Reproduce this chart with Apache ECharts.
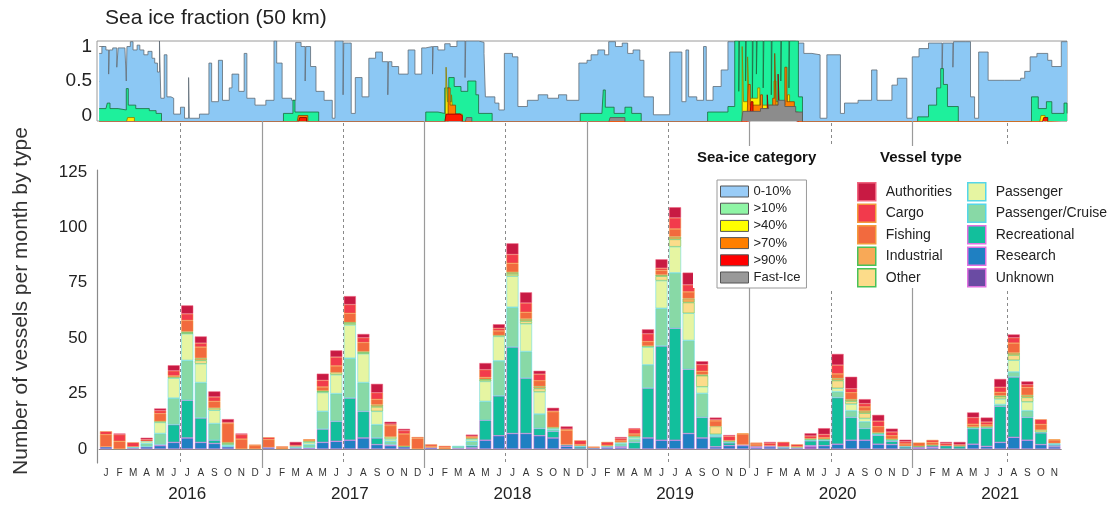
<!DOCTYPE html>
<html><head><meta charset="utf-8">
<script src="https://cdn.jsdelivr.net/npm/echarts@6/dist/echarts.min.js"></script>
<style>html,body{margin:0;padding:0;background:#fff}#c{width:1120px;height:506px}</style>
</head><body><div id="c"></div>
<script>
const FONT = 'Liberation Sans, Arial, Helvetica, sans-serif';
const monthLetters = ['J','F','M','A','M','J','J','A','S','O','N','D'];
const years = ['2016','2017','2018','2019','2020','2021'];
const monthsPerYear = [12,12,12,12,12,11];
const yTicks = [0,25,50,75,100,125];
const iceTicks = [0,0.5,1];
const yearBoundaryMonths = [12,24,36,48,60];
const summerMarkMonths = [6,18,30,42,54,67];

// vessels per month, by type (2016-01 .. 2021-11)
const unknown = [0,0,0,0,0,0,0,0,0,0,0,0, 0,0,0,0,0,0,0,0,0,0,0,0, 0,0,0,0,0,0,0,0,0,0,0,0, 0,0,0,0,0,0,0,0,0,0,0,0, 0,0,0,0,1,0,0,0,0,0,0,0, 0,0,0,0,0,0,0,0,0,0,0];
const research = [1,0,0,1,1.5,3,5,3,2.5,1,0,0, 0.8,0,0,0.5,3,3.5,4,5,2,1.5,1,0, 0.7,0,0,0.5,4,6,7,7,6,5,1.3,0, 0,0.8,0.8,0,5,4,4,7,5,1,1.5,1.5, 0.8,1,0,0,0.5,1.5,2.2,4,4,2.2,2,0, 0.5,0.8,0,0,2.2,1.2,3,5.3,4,2,1];
const recreational = [0,0,0.5,0,0.5,8,17,11,1.5,0,0,0, 0,0,0.5,0,6,9,19,12,3,0.5,0,0, 0,0,0.4,1,9,18,39,25,3.3,3,0.7,1, 0.6,0,0.5,3,22.5,42.5,50.5,29,9.3,4.5,1.3,0.5, 0.5,0.5,0.8,0.5,2.2,2.3,21,10.3,5.3,4,1.5,1, 0.5,0.7,1.5,1.2,7,8.2,16.3,27.2,10.3,5.3,0.8];
const passengerCruise = [0,0,0.5,1.5,5,12,18,16,7.5,0.5,0,0, 0,0,0.7,1.5,8,12.5,18,13,6,1.5,0,0, 0,0,1,2,8.5,15.8,18,12,6.5,0.8,0,0.5, 0,0.5,1.2,1.5,10.5,17,25,13,10.8,0.7,0.5,0, 0,0,0.3,0.3,0.5,0.5,2.7,3,3,0.5,0.5,0.3, 0,0,0,0,0.3,0.3,0.8,2.3,3,0.3,0.5];
const passenger = [0,0,0,1,5,9,12,8.5,6,0.5,0,0, 0,0,0,1,8.5,8.5,15,13,6,1,0,0, 0,0,0,1,9,11,14,12.5,10,0.5,0,0, 0,0,0.5,0.8,8,12.5,11.8,12.3,3,0.5,0,0, 0,0,0,0,0,0,1.5,3,1.5,0.3,0,0, 0,0,0,0,0,0,2.5,5.3,4,0,0.3];
const other = [0,0,0,0,0.5,0.5,0.5,1.5,1,0.5,0,0, 0,0,0,0.5,0.5,1,0.7,0.5,2,1,0.3,0, 0,0,0,0.3,0.7,0.5,1,1.2,1.5,0.5,0,0, 0,0,0,0.5,0.5,2,3.3,4.8,5,3.5,0.5,0, 0,0,0,0,0.5,0.3,3.5,1.3,2.4,0.4,0.5,0, 0.3,0.3,0,0.3,0.5,0.5,1,2.3,2,1,0];
const industrial = [0,0,0,0,0,0,0.5,1,0,0.5,0,0, 0,0,0,0,0.3,0,0.5,0.5,1,0,0,0, 0,0,0,0,0.3,0,0.8,1,1,0,0,0, 0,0,0,0,0,0.6,1.2,1.8,0.5,0,0,0, 0,0,0,0,0,0,1,0.8,1,0,0,0, 0,0,0,0,0,0,0.5,1,1,0,0];
const fishing = [5.5,3.5,0,0,3.5,0.5,5,5,3,8.5,4.5,1.5, 3.5,0.6,0,0.5,1.7,3,4,4,2.4,5,5.5,4.8, 0.6,0.7,0,0.5,0.8,2,4,3,2.5,7,6.5,0.5, 0,0.4,0.7,1,2,2,3.5,3,1.5,2.5,0,4.8, 1,0,0,0.3,0,0.5,2,3,1.8,2.7,1.5,1, 1.6,1.2,0,0,1.2,0.7,1.5,4.4,3.5,2.5,1.5];
const cargo = [1.5,3,2,0.8,1.3,2.3,3,1.8,2,0.5,2,0.5, 1,0.6,0.5,0.4,3,4,4,2.2,3,0.8,1.5,0.6, 0.8,0.7,0,0.5,3.5,1.2,4,4.2,3,0.3,0.5,1.9, 0.5,1.5,1,2.3,3.5,1,5,3.2,3,0.5,2,0.3, 0.6,1.2,2.1,1,1.2,1.5,4,1.8,1.5,2.5,1.7,1, 0,1.1,1,0.5,3,1.3,2.3,2.4,1.2,2.3,0.3];
const authorities = [0,0.5,0,0.8,1,2.5,3.8,3,2.5,1.5,0.5,0, 0,0,1.5,0,3,3,3.8,1.7,4,1,0.8,0, 0,0,0,0.7,3,1.8,5,4.8,1.5,1.5,1.2,0, 0,0,0.7,0.3,2,4,4.8,5.5,1.5,1,0.5,0, 0,0.5,0,0,1.2,2.8,5,5.4,2,2.8,1.5,0.9, 0,0,0.7,1.2,2.3,2,3.7,1.5,1.5,0,0];

const vesselNames = ['Unknown','Research','Recreational','Passenger/Cruise','Passenger','Other','Industrial','Fishing','Cargo','Authorities'];
const vesselData = [unknown,research,recreational,passengerCruise,passenger,other,industrial,fishing,cargo,authorities];
const vesselColors = ['#6a4ba3','#1f80c2','#12bf9c','#88d9a6','#e6f5a2','#fcdc8a','#f8a957','#f26a3e','#f23a4c','#c81a43'];
const vesselBorders = ['#e070e0','#e070e0','#e070e0','#55d6e8','#55d6e8','#48c258','#48c258','#f39a3c','#f39a3c','#f0647e'];
const legendCol1 = ['Authorities','Cargo','Fishing','Industrial','Other'];
const legendCol2 = ['Passenger','Passenger/Cruise','Recreational','Research','Unknown'];

// sea-ice fraction within 50 km, [month index, fraction] (step series); -0.1 = none
const iceBlue = [[0,0.9],[0.2,1.0],[0.5,0.95],[0.7,0.6],[0.75,0.95],[1.0,0.98],[1.3,0.7],[1.4,0.98],[1.9,1.0],[2.0,0.5],[2.05,1.0],[2.3,1.07],[2.5,0.95],[2.8,1.02],[3.0,0.95],[3.3,0.88],[3.6,0.93],[3.9,0.83],[4.1,0.76],[4.3,0.63],[4.45,1.08],[4.55,0.25],[4.8,0.88],[5.0,0.27],[5.3,0.25],[5.5,0.02],[6.0,0.12],[6.3,-0.04],[6.6,0.55],[6.65,-0.04],[7.4,0.02],[8.1,0.76],[8.3,0.2],[8.8,0.8],[9.1,0.22],[9.6,0.4],[9.8,0.6],[10.3,0.35],[10.7,0.9],[10.9,0.25],[11.5,0.15],[12.3,0.22],[12.9,1.08],[13.1,0.76],[13.5,0.25],[14.2,0.22],[14.5,1.06],[14.9,1.0],[15.2,0.5],[15.25,1.0],[15.6,0.71],[16.0,0.35],[16.6,0.22],[17.2,-0.04],[17.4,1.08],[18.0,0.3],[18.05,1.05],[18.4,1.05],[18.6,0.03],[18.9,0.55],[19.4,0.27],[19.9,0.83],[20.4,0.92],[20.9,0.78],[21.3,0.3],[21.35,0.78],[21.6,0.71],[22.1,0.6],[22.8,0.95],[23.3,0.6],[23.8,0.98],[24.1,1.0],[24.6,0.6],[24.65,1.0],[25.0,0.95],[25.5,1.04],[25.9,1.0],[26.4,1.08],[27.0,0.55],[27.05,1.08],[28.0,1.06],[28.4,0.9],[28.5,0.27],[29.2,0.18],[29.5,0.08],[29.9,0.9],[30.5,0.85],[30.9,0.13],[31.6,0.22],[32.4,0.3],[33.1,0.25],[33.9,0.3],[34.5,0.22],[35.4,0.76],[36.0,0.8],[36.3,0.88],[36.8,0.95],[37.3,0.88],[37.6,1.07],[38.1,1.0],[38.6,1.05],[39.0,0.9],[39.4,0.95],[39.9,0.8],[40.2,0.27],[40.9,0.01],[42.1,0.92],[43.0,0.2],[43.3,0.95],[43.5,0.27],[44.1,0.22],[44.6,1.0],[44.8,0.22],[45.3,0.42],[45.9,0.66],[46.4,1.07],[46.8,1.08],[51.4,1.05],[52.0,0.9],[52.6,0.88],[53.2,-0.04],[53.7,0.88],[54.7,0.03],[55.0,0.18],[56.0,0.22],[57.0,0.66],[57.4,0.22],[58.5,0.44],[58.9,0.54],[59.6,-0.04],[60.0,0.85],[60.5,0.97],[61.2,1.05],[62.2,0.6],[62.25,1.05],[63.0,0.7],[63.05,1.07],[63.9,1.07],[64.3,0.27],[64.6,-0.04],[64.9,0.92],[65.6,0.51],[66.8,0.51],[68.0,0.54],[68.3,0.64],[68.7,0.85],[69.2,0.9],[70.0,0.8],[70.3,0.71],[71.0,1.07],[71.42,1.08]];
const iceGreen = [[0,0.1],[0.5,0.1],[0.6,0.18],[0.8,0.1],[1.4,0.08],[2.0,0.39],[2.15,0.15],[2.7,0.1],[3.7,0.07],[4.2,0.03],[4.6,-0.1],[13.3,-0.1],[13.6,0.03],[14.3,0.22],[14.45,0.05],[16.2,-0.1],[24.1,0.05],[25.0,0.03],[25.5,0.4],[25.8,0.55],[26.2,0.42],[26.7,0.35],[27.2,0.5],[27.8,0.3],[28.0,0.03],[29.0,-0.1],[35.5,0.03],[37.1,0.03],[37.2,0.37],[37.35,0.12],[38.0,0.03],[38.8,0.12],[39.3,0.03],[40.0,-0.1],[44.9,0.05],[46.4,0.13],[46.9,1.08],[47.2,0.35],[47.25,1.08],[47.7,0.5],[47.75,1.08],[48.2,0.2],[48.25,1.08],[48.5,0.6],[48.55,1.08],[49.0,0.4],[49.05,1.08],[49.6,0.3],[49.65,1.08],[50.3,0.5],[50.35,1.08],[50.9,0.4],[50.95,1.08],[51.4,1.08],[51.6,0.27],[51.9,-0.1],[59.7,-0.1],[60.4,-0.02],[61.2,0.15],[61.8,0.4],[62.1,0.68],[62.3,0.45],[62.6,0.13],[63.4,-0.1],[68.8,0.27],[69.3,0.1],[69.9,0.2],[70.3,0.03],[71.2,0.18],[71.42,0.03]];
const iceYellow = [[0,-0.1],[2.0,-0.1],[2.1,-0.03],[2.6,-0.1],[25.55,-0.1],[25.6,0.7],[25.7,0.2],[26.0,0.3],[26.1,0.02],[26.8,-0.1],[47.3,-0.1],[47.45,1.0],[47.55,0.2],[47.85,0.85],[47.95,0.25],[48.6,0.4],[48.75,0.15],[49.8,0.5],[49.95,0.2],[50.8,0.3],[50.95,0.05],[51.6,-0.1],[69.4,-0.1],[69.5,0.0],[69.8,-0.1],[71.42,-0.1]];
const iceOrange = [[0,-0.1],[14.6,-0.1],[14.7,0.0],[15.4,-0.1],[25.6,-0.1],[25.75,0.4],[25.9,0.15],[26.3,0.02],[26.7,-0.1],[47.8,-0.1],[47.9,0.45],[48.05,0.15],[48.8,0.3],[48.95,0.1],[49.7,0.25],[49.85,0.9],[49.95,0.15],[50.6,0.7],[50.75,0.2],[51.3,0.02],[51.6,-0.1],[71.42,-0.1]];
const iceRed = [[0,-0.1],[14.7,-0.1],[14.8,-0.03],[15.3,-0.1],[25.5,-0.1],[25.6,0.02],[26.6,0.0],[26.8,-0.1],[48.0,-0.1],[48.1,0.2],[48.25,0.0],[49.3,0.3],[49.4,0.0],[50.1,0.6],[50.2,0.05],[51.0,-0.02],[51.5,-0.1],[69.6,-0.1],[69.7,-0.03],[70.0,-0.1],[71.42,-0.1]];
const iceFast = [[0,-0.1],[27.0,-0.1],[27.1,-0.03],[27.5,-0.1],[37.6,-0.1],[37.7,-0.03],[38.8,-0.1],[47.4,-0.1],[47.5,0.06],[48.8,0.1],[49.4,0.15],[50.1,0.22],[50.6,0.13],[51.4,0.05],[51.9,-0.1],[71.42,-0.1]];

const iceNames = ['0-10%','>10%','>40%','>70%','>90%','Fast-Ice'];
const iceData = [iceBlue,iceGreen,iceYellow,iceOrange,iceRed,iceFast];
const iceFill = ['#8cc8f4','#1ef09c','#ffee00','#ff8000','#ff1a00','#8c8c8c'];
const iceLine = ['#5f6b75','#1d6b3c','#8a7d00','#8a4500','#800000','#555555'];
const iceLegendFill = ['#99ccf7','#8ff5a5','#ffff00','#ff7f00','#ff0000','#999999'];

// ---------- build ----------
const categories = [];
years.forEach((y,i)=>{ for(let m=0;m<monthsPerYear[i];m++) categories.push(y+'-'+(m+1)); });

const chart = echarts.init(document.getElementById('c'), null, {renderer:'canvas'});
const series = [];
iceNames.forEach((n,i)=>{
  series.push({name:n,type:'line',xAxisIndex:0,yAxisIndex:0,step:'end',symbol:'none',silent:true,clip:true,
    data:iceData[i],lineStyle:{width:0.8,color:iceLine[i]},itemStyle:{color:iceFill[i]},
    areaStyle:{color:iceFill[i],opacity:1,origin:'start'},z:2+i*0.01});
});
vesselNames.forEach((n,i)=>{
  series.push({name:n,type:'bar',xAxisIndex:1,yAxisIndex:1,stack:'v',barWidth:12,silent:true,
    data:vesselData[i].map(v=>v===0?null:v),
    itemStyle:{color:vesselColors[i],borderColor:vesselBorders[i],borderWidth:0.5}});
});
series.push({type:'line',xAxisIndex:3,yAxisIndex:2,data:[],silent:true,
  markLine:{silent:true,symbol:['none','none'],label:{show:false},z:5,
    lineStyle:{color:'#9a9a9a',width:1.2,type:'solid'},
    data:yearBoundaryMonths.map(m=>({xAxis:m}))}});
series.push({type:'line',xAxisIndex:4,yAxisIndex:3,data:[],silent:true,
  markLine:{silent:true,symbol:['none','none'],label:{show:false},z:5,
    lineStyle:{color:'#8a8a8a',width:1,type:[3,3]},
    data:summerMarkMonths.map(m=>({xAxis:m}))}});

const nMonths = categories.length;
const option = {
  animation:false,
  textStyle:{fontFamily:FONT},
  grid:[
    {left:97,top:41,width:970,height:80,show:true,borderColor:'#9a9a9a',borderWidth:1,backgroundColor:'transparent',outerBoundsMode:'none'},
    {left:99.2,top:170,width:962,height:293,outerBoundsMode:'none'},
    {left:99.2,top:121,width:962,height:347,outerBoundsMode:'none'},
    {left:99.2,top:121,width:962,height:341,outerBoundsMode:'none'}
  ],
  xAxis:[
    {gridIndex:0,type:'value',min:-0.16,max:71.42,show:false},
    {gridIndex:1,type:'category',position:'bottom',data:categories,
      axisLine:{lineStyle:{color:'#8a8a8a',width:1.2}},axisTick:{show:false},
      axisLabel:{interval:0,margin:5,fontSize:10,color:'#333',fontFamily:FONT,
        formatter:(v)=>monthLetters[Number(v.split('-')[1])-1]}},
    {gridIndex:1,type:'category',position:'bottom',data:categories,axisLine:{show:false},axisTick:{show:false},
      axisLabel:{interval:0,margin:23,fontSize:17,color:'#222',fontFamily:FONT,
        formatter:(v)=>{const p=v.split('-');return p[1]==='7'?p[0]:'';}}},
    {gridIndex:2,type:'value',min:0,max:nMonths,show:false},
    {gridIndex:3,type:'value',min:0,max:nMonths,show:false}
  ],
  yAxis:[
    {gridIndex:0,type:'value',min:-0.08,max:1.08,splitLine:{show:false},axisLine:{show:false},
      axisTick:{show:true,inside:true,length:5,customValues:iceTicks,lineStyle:{color:'#888'}},
      axisLabel:{customValues:iceTicks,fontSize:19,color:'#222',margin:5,fontFamily:FONT}},
    {gridIndex:1,type:'value',min:-6.3,max:125.9,offset:2,splitLine:{show:false},
      axisLine:{show:true,lineStyle:{color:'#8a8a8a',width:1.2}},axisTick:{show:false},
      axisLabel:{customValues:yTicks,fontSize:17,color:'#222',margin:10,fontFamily:FONT}},
    {gridIndex:2,type:'value',min:0,max:1,show:false},
    {gridIndex:3,type:'value',min:0,max:1,show:false}
  ],
  legend:[
    {data:iceNames.map((n,i)=>({name:n,itemStyle:{color:iceLegendFill[i],borderColor:'#555',borderWidth:1}})),
      left:717,top:180,orient:'vertical',icon:'rect',itemWidth:28,itemHeight:11,itemGap:4.2,
      padding:[5,6,4,3],borderColor:'#9a9a9a',borderWidth:1,backgroundColor:'#fff',selectedMode:false,z:10,
      textStyle:{fontSize:13,color:'#222',fontFamily:FONT}},
    {data:legendCol1,left:857,top:182,orient:'vertical',icon:'rect',itemWidth:18,itemHeight:18,itemGap:2,padding:0,
      selectedMode:false,z:10,itemStyle:{borderWidth:1.5},
      textStyle:{fontSize:14,color:'#222',fontFamily:FONT,padding:[0,0,0,5]}},
    {data:legendCol2,left:967,top:182,orient:'vertical',icon:'rect',itemWidth:18,itemHeight:18,itemGap:2,padding:0,
      selectedMode:false,z:10,itemStyle:{borderWidth:1.5},
      textStyle:{fontSize:14,color:'#222',fontFamily:FONT,padding:[0,0,0,5]}}
  ],
  graphic:{elements:[
    {type:'rect',z:8,silent:true,shape:{x:693,y:146,width:380,height:142},style:{fill:'#fff'}},
    {type:'text',z:10,silent:true,x:105,y:18,style:{text:'Sea ice fraction (50 km)',font:'21px '+FONT,fill:'#222',textVerticalAlign:'middle'}},
    {type:'text',z:10,silent:true,x:697,y:158,style:{text:'Sea-ice category',font:'bold 15px '+FONT,fill:'#111',textVerticalAlign:'middle'}},
    {type:'text',z:10,silent:true,x:880,y:158,style:{text:'Vessel type',font:'bold 15px '+FONT,fill:'#111',textVerticalAlign:'middle'}},
    {type:'text',z:10,silent:true,x:21,y:301,rotation:Math.PI/2,style:{text:'Number of vessels per month by type',font:'21px '+FONT,fill:'#333',textAlign:'center',textVerticalAlign:'middle'}}
  ]},
  series:series
};
chart.setOption(option);
</script></body></html>
